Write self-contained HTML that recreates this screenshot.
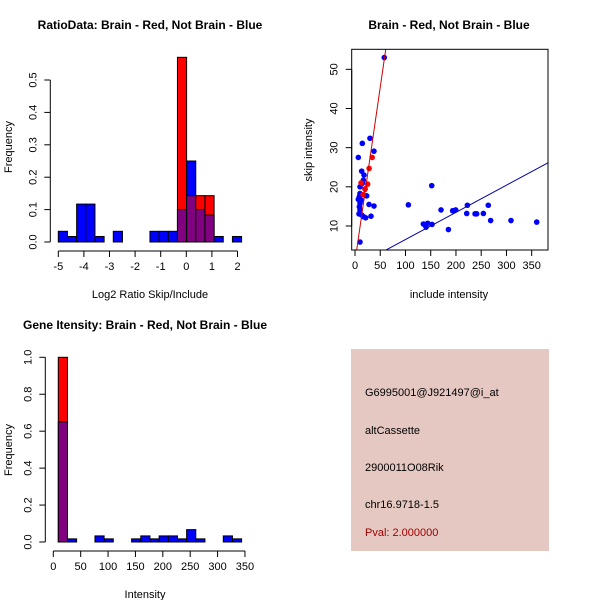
<!DOCTYPE html>
<html><head><meta charset="utf-8"><style>
body{margin:0;background:#fff}
svg{display:block;font-family:"Liberation Sans",sans-serif}
</style></head><body>
<svg id="c" width="600" height="600" viewBox="0 0 600 600">
<rect width="600" height="600" fill="#fff"/>
<rect x="351" y="349" width="198" height="202" fill="#e6c8c2"/>
<g font-size="11" fill="#000">
<text x="365" y="396">G6995001@J921497@i_at</text>
<text x="365" y="434">altCassette</text>
<text x="365" y="471">2900011O08Rik</text>
<text x="365" y="508">chr16.9718-1.5</text>
<text x="365" y="536" fill="#a00000">Pval: 2.000000</text>
</g>
<g font-weight="bold" font-size="12" text-anchor="middle">
<text x="150" y="29">RatioData: Brain - Red, Not Brain - Blue</text>
<text x="449" y="29">Brain - Red, Not Brain - Blue</text>
<text x="145" y="329">Gene Itensity: Brain - Red, Not Brain - Blue</text>
</g>
<g font-size="11" text-anchor="middle">
<text x="150" y="298">Log2 Ratio Skip/Include</text>
<text x="449" y="298">include intensity</text>
<text x="145" y="598">Intensity</text>
<text transform="translate(12,147) rotate(-90)">Frequency</text>
<text transform="translate(312,150) rotate(-90)">skip intensity</text>
<text transform="translate(12,450) rotate(-90)">Frequency</text>
</g>
<g id="g1"></g><g id="g2"></g><g id="g3"></g>
</svg>
<script>
const ratioBlue=[0.033,0.017,0.117,0.117,0.017,0,0.033,0,0,0,0.033,0.033,0.033,0.1,0.25,0.1,0.083,0.017,0,0.017];
const ratioRed=[0,0,0,0,0,0,0,0,0,0,0,0,0,0.57,0.143,0.143,0.143,0,0,0];
const ratioXTicks=[-5,-4,-3,-2,-1,0,1,2];
const ratioYTicks=[0,0.1,0.2,0.3,0.4,0.5];
const intBlue=[0.65,0.017,0,0,0.033,0.017,0,0,0.017,0.033,0.017,0.033,0.033,0.017,0.067,0.017,0,0,0.033,0.017];
const intRed=[1.0,0,0,0,0,0,0,0,0,0,0,0,0,0,0,0,0,0,0,0];
const intXTicks=[0,50,100,150,200,250,300,350];
const intYTicks=[0,0.2,0.4,0.6,0.8,1.0];
const blueX=[6.6,14.5,29.7,37.6,13.2,17.8,14.5,9.9,9.9,8.6,6.6,12.5,9.9,8.6,9.9,7.9,13.2,16.5,21.1,23.1,27.7,37.6,31.7,9.9,19.8,16.5,58,105.7,140.7,135.4,144,140.7,152.6,152,170.4,185,193.5,199.5,221.3,222.6,237.8,241,254.3,264,268.7,309,360];
const blueY=[27.5,31.1,32.4,29.1,24.0,23.0,20.9,20.0,18.3,17.5,16.8,16.6,15.8,14.9,14.1,13.1,12.8,12.4,12.1,17.7,15.5,15.1,12.5,5.9,19.4,21.7,53,15.4,10.4,10.5,10.7,9.7,10.4,20.3,14.1,9.1,13.9,14.1,13.2,15.3,13.1,13.1,13.2,15.3,11.4,11.4,11.0];
const redX=[28,34,25,12,20,16];
const redY=[24.7,27.5,20.7,21,19.5,18];
const redLine=[0.93,0.89];
const blueLine=[-0.39,0.0694];
const scXTicks=[0,50,100,150,200,250,300,350];
const scYTicks=[10,20,30,40,50];
const NS="http://www.w3.org/2000/svg";
function mk(p,t,a){const e=document.createElementNS(NS,t);for(const k in a)e.setAttribute(k,a[k]);p.appendChild(e);return e;}
function hist(g,blue,red,x0,bw,sx,sy,xt,yt,axY,prefix){
 for(let i=0;i<blue.length;i++){
  const b=blue[i],r=red[i],lo=Math.min(b,r),hi=Math.max(b,r);
  const xa=sx(x0+i*bw),xb=sx(x0+(i+1)*bw);
  if(hi>0){const e=mk(g,'rect',{x:xa,y:sy(hi),width:xb-xa,height:sy(0)-sy(hi),fill:r>b?'#ff0000':'#0000ff',stroke:'#000','stroke-width':1});
   
   }
  if(lo>0){const e=mk(g,'rect',{x:xa,y:sy(lo),width:xb-xa,height:sy(0)-sy(lo),fill:'#800080',stroke:'#000','stroke-width':1});
   
   }
 }
 axes(g,sx,sy,xt,yt,axY,null,prefix,true);
}
function axes(g,sx,sy,xt,yt,axY,axX,prefix,drawX){
 if(drawX) mk(g,'line',{x1:sx(xt[0]),x2:sx(xt[xt.length-1]),y1:axY,y2:axY,stroke:'#000'});
 xt.forEach(v=>{mk(g,'line',{x1:sx(v),x2:sx(v),y1:axY,y2:axY+6,stroke:'#000'});
  const t=mk(g,'text',{x:sx(v),y:axY+19,'font-size':11,'text-anchor':'middle'});t.textContent=v;
  
  });
 const ax=axX!==null?axX:sx(xt[0])-8;
 mk(g,'line',{x1:ax,x2:ax,y1:sy(yt[0]),y2:sy(yt[yt.length-1]),stroke:'#000'});
 yt.forEach(v=>{mk(g,'line',{x1:ax,x2:ax-6,y1:sy(v),y2:sy(v),stroke:'#000'});
  const t=mk(g,'text',{transform:`translate(${ax-14},${sy(v)}) rotate(-90)`,'font-size':11,'text-anchor':'middle'});t.textContent=v.toFixed(v>=10?0:1);
  
  });
}
// ratio hist
{const g=document.getElementById('g1');
 const sx=v=>58.3+(v+5)*25.6, sy=v=>242-v*324;
 hist(g,ratioBlue,ratioRed,-5,0.358,sx,sy,ratioXTicks,ratioYTicks,251,'ratio');}
// intensity hist
{const g=document.getElementById('g3');
 const sx=v=>53.3+v*0.5476, sy=v=>542-v*184.7;
 hist(g,intBlue,intRed,9.1,16.74,sx,sy,intXTicks,intYTicks,551,'intensity');}
// scatter
{const g=document.getElementById('g2');
 const sx=v=>355+v*0.5048, sy=v=>226-(v-10)*3.917;
 const L=351.7,R=548,T=49.3,B=250;
 const cp=mk(g,'clipPath',{id:'cp'});mk(cp,'rect',{x:L,y:T,width:R-L,height:B-T});
 const pts=mk(g,'g',{'clip-path':'url(#cp)'});
 blueX.forEach((x,i)=>{const c=mk(pts,'circle',{cx:sx(x),cy:sy(blueY[i]),r:2.8,fill:'#0000ff'});
  
  });
 redX.forEach((x,i)=>{const c=mk(pts,'circle',{cx:sx(x),cy:sy(redY[i]),r:2.8,fill:'#ff0000'});
  
  });
 const x0=-10,x1=400;
 const rl=mk(pts,'line',{x1:sx(x0),y1:sy(redLine[0]+redLine[1]*x0),x2:sx(x1),y2:sy(redLine[0]+redLine[1]*x1),stroke:'#cc0000'});
 
 
 const bl=mk(pts,'line',{x1:sx(x0),y1:sy(blueLine[0]+blueLine[1]*x0),x2:sx(x1),y2:sy(blueLine[0]+blueLine[1]*x1),stroke:'#0000aa'});
 
 
 mk(g,'rect',{x:L,y:T,width:R-L,height:B-T,fill:'none',stroke:'#000'});
 axes(g,sx,sy,scXTicks,scYTicks,B,L,'scatter',false);
}
</script>
</body></html>
